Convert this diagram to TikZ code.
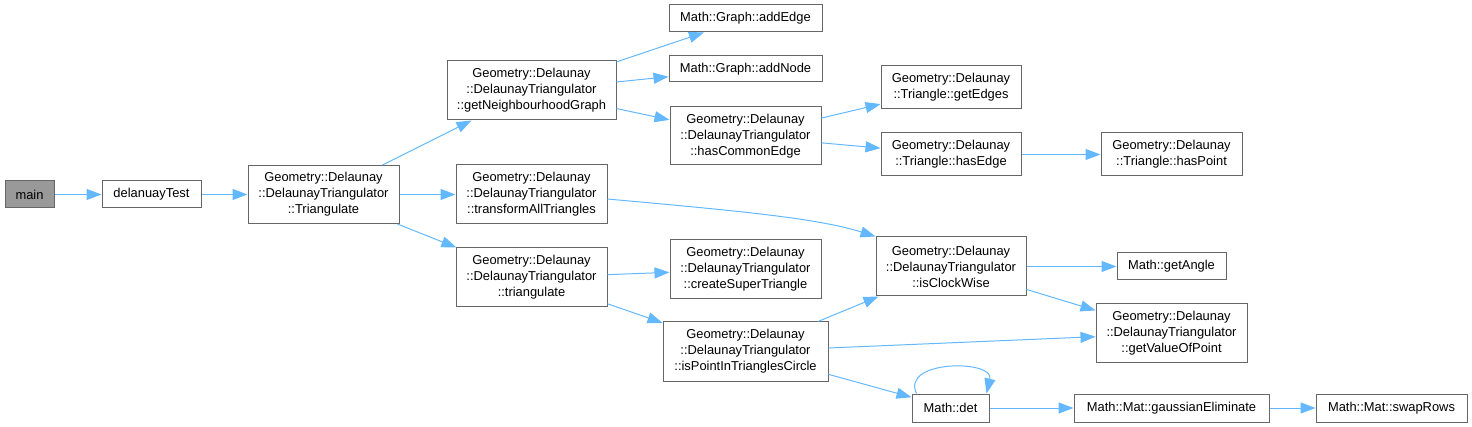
\documentclass[tikz,border=0pt]{standalone}
\usepackage{fontspec}
\setmainfont{Liberation Sans}
\usetikzlibrary{calc}
\usetikzlibrary{arrows.meta}
\usepackage{xcolor}
\definecolor{callblue}{HTML}{63B8FF}
\definecolor{boxgray}{HTML}{666666}
\definecolor{maingray}{HTML}{999999}

\begin{document}
\begin{tikzpicture}[x=1pt,y=-1pt,
  fn/.style={draw=boxgray, fill=white, line width=1pt, inner sep=0pt, align=center,
    font=\fontsize{12.9}{16}\selectfont},
  call/.style={callblue, line width=1pt, -{Triangle[length=15pt,width=11pt]}}]
\useasboundingbox (0,0) rectangle (1472,427);
\node[fn, fill=maingray, minimum width=49pt, minimum height=27pt] (main) at (29.5,194.5) {main};
\node[fn, minimum width=99pt, minimum height=27pt] (test) at (151.5,194.5) {delanuayTest};
\node[fn, minimum width=151pt, minimum height=58pt] (tri) at (323.5,194.5) {Geometry::Delaunay\\::DelaunayTriangulator\\::Triangulate};
\node[fn, minimum width=169pt, minimum height=59pt] (ngh) at (531.5,90.5) {Geometry::Delaunay\\::DelaunayTriangulator\\::getNeighbourhoodGraph};
\node[fn, minimum width=151pt, minimum height=59pt] (tall) at (531.5,194.5) {Geometry::Delaunay\\::DelaunayTriangulator\\::transformAllTriangles};
\node[fn, minimum width=151pt, minimum height=59pt] (trl) at (531.5,277.5) {Geometry::Delaunay\\::DelaunayTriangulator\\::triangulate};
\node[fn, minimum width=153pt, minimum height=27pt] (addE) at (745.5,18.5) {Math::Graph::addEdge};
\node[fn, minimum width=153pt, minimum height=26pt] (addN) at (745.5,69) {Math::Graph::addNode};
\node[fn, minimum width=151pt, minimum height=58pt] (common) at (745.5,136) {Geometry::Delaunay\\::DelaunayTriangulator\\::hasCommonEdge};
\node[fn, minimum width=151pt, minimum height=59pt] (super) at (745.5,269.5) {Geometry::Delaunay\\::DelaunayTriangulator\\::createSuperTriangle};
\node[fn, minimum width=165pt, minimum height=59pt] (circ) at (745.5,351.5) {Geometry::Delaunay\\::DelaunayTriangulator\\::isPointInTrianglesCircle};
\node[fn, minimum width=140pt, minimum height=43pt] (edges) at (951,87.5) {Geometry::Delaunay\\::Triangle::getEdges};
\node[fn, minimum width=140pt, minimum height=43pt] (hasE) at (951,154.5) {Geometry::Delaunay\\::Triangle::hasEdge};
\node[fn, minimum width=150pt, minimum height=59pt] (cw) at (951,266.5) {Geometry::Delaunay\\::DelaunayTriangulator\\::isClockWise};
\node[fn, minimum width=77pt, minimum height=28pt] (det) at (950.5,408) {Math::det};
\node[fn, minimum width=141pt, minimum height=43pt] (hasP) at (1171.5,154.5) {Geometry::Delaunay\\::Triangle::hasPoint};
\node[fn, minimum width=109pt, minimum height=27pt] (angle) at (1171.5,266.5) {Math::getAngle};
\node[fn, minimum width=151pt, minimum height=59pt] (value) at (1171.5,333.5) {Geometry::Delaunay\\::DelaunayTriangulator\\::getValueOfPoint};
\node[fn, minimum width=195pt, minimum height=28pt] (gauss) at (1171.5,408) {Math::Mat::gaussianEliminate};
\node[fn, minimum width=151pt, minimum height=28pt] (swap) at (1391.5,408) {Math::Mat::swapRows};

\draw[call] (main) -- (test);
\draw[call] (test) -- (tri);
\draw[call] (tri) -- (ngh);
\draw[call] (tri) -- (tall);
\draw[call] (tri) -- (trl);
\draw[call] (ngh) -- (addE);
\draw[call] (ngh) -- (addN);
\draw[call] (ngh) -- (common);
\draw[call] (common) -- (edges);
\draw[call] (common) -- (hasE);
\draw[call] (hasE) -- (hasP);
\draw[call] ([yshift=-4.5pt]tall.east) .. controls +(120,11) and +(-60,-19) .. (cw.north west);
\draw[call] (trl) -- (super);
\draw[call] (trl) -- (circ);
\draw[call] (circ) -- (cw);
\draw[call] (circ) -- (value);
\draw[call] (circ) -- (det);
\draw[call] (cw) -- (angle);
\draw[call] (cw) -- (value);
\draw[call] ([xshift=5pt]det.north west) .. controls +(-16,-34) and +(8,-34) .. ([xshift=-3pt]det.north east);
\draw[call] (det) -- (gauss);
\draw[call] (gauss) -- (swap);
\end{tikzpicture}
\end{document}
